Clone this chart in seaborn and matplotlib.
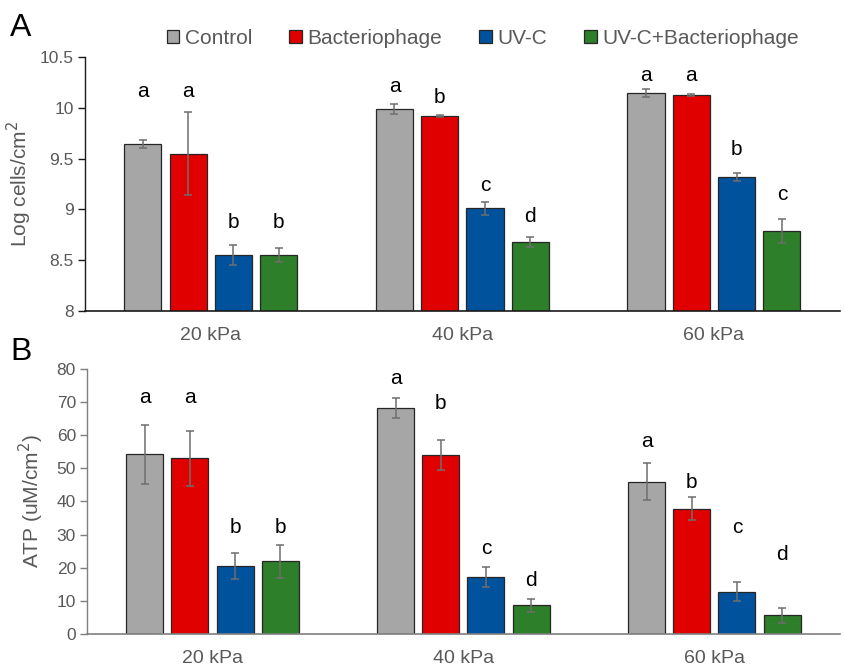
import numpy as np
import pandas as pd
import matplotlib
matplotlib.use("Agg")
import matplotlib.pyplot as plt
import seaborn as sns

# data
pressures = ['20 kPa', '40 kPa', '60 kPa']
treatments = ['Control', 'Bacteriophage', 'UV-C', 'UV-C+Bacteriophage']
colors = ['#A6A6A6', '#E00000', '#00529C', '#2E7F2A']

# panel A: log cells/cm2, rows = treatment, cols = pressure
log_mean = [[9.64, 9.99, 10.15],
            [9.55, 9.92, 10.13],
            [8.55, 9.01, 9.32],
            [8.55, 8.68, 8.79]]
log_err = [[0.04, 0.05, 0.04],
           [0.41, 0.01, 0.01],
           [0.10, 0.06, 0.04],
           [0.07, 0.05, 0.12]]
log_letters = [['a', 'a', 'a'],
               ['a', 'b', 'a'],
               ['b', 'c', 'b'],
               ['b', 'd', 'c']]
log_letter_y = [[10.16, 10.21, 10.32],
                [10.16, 10.10, 10.32],
                [8.87, 9.24, 9.59],
                [8.87, 8.93, 9.15]]

# panel B: ATP uM/cm2
atp_mean = [[54.2, 68.3, 46.0],
            [53.0, 54.0, 37.8],
            [20.5, 17.3, 12.8],
            [22.0, 8.7, 5.6]]
atp_err = [[9.0, 3.0, 5.5],
           [8.3, 4.5, 3.5],
           [4.0, 3.0, 2.8],
           [5.0, 2.0, 2.3]]
atp_letters = [['a', 'a', 'a'],
               ['a', 'b', 'b'],
               ['b', 'c', 'c'],
               ['b', 'd', 'd']]
atp_letter_y = [[71.5, 77.0, 58.2],
                [71.5, 69.7, 45.8],
                [32.0, 25.8, 32.0],
                [32.0, 16.0, 24.0]]


def long_table(mean):
    rows = []
    for t, vals in zip(treatments, mean):
        for p, v in zip(pressures, vals):
            rows.append({'Pressure': p, 'Treatment': t, 'value': v})
    return pd.DataFrame(rows)


sns.set_style('white')
plt.rcParams['font.family'] = ['Liberation Sans', 'DejaVu Sans']
grey_txt = '#595959'

fig = plt.figure(figsize=(8.44, 6.67), dpi=100)
axA = fig.add_axes([0.1007, 0.5337, 0.8943, 0.3808])
axB = fig.add_axes([0.1031, 0.0495, 0.8919, 0.3973])


def draw_panel(ax, mean, err, letters, letter_y, ylim, yticks, ylabel, spine_col):
    df = long_table(mean)
    sns.barplot(data=df, x='Pressure', y='value', hue='Treatment',
                order=pressures, hue_order=treatments, palette=colors,
                errorbar=None, width=0.72, gap=0.18, edgecolor='#262626',
                linewidth=0.9, saturation=1, ax=ax)
    # bars sorted left to right: pressure groups, treatments inside each group
    bars = [p for c in ax.containers for p in c if p is not None]
    bars = sorted(bars, key=lambda b: b.get_x())
    for k, bar in enumerate(bars):
        pi, ti = k // len(treatments), k % len(treatments)
        xc = bar.get_x() + bar.get_width() / 2
        ax.errorbar(xc, mean[ti][pi], yerr=err[ti][pi], fmt='none',
                    ecolor='#6E6E6E', elinewidth=1.1, capsize=3, capthick=1.1)
        ax.text(xc, letter_y[ti][pi], letters[ti][pi], ha='center', va='center',
                fontsize=15, color='black')
    ax.set_ylim(*ylim)
    ax.set_xlim(-0.5, 2.5)
    ax.set_yticks(yticks)
    ax.set_yticklabels([('%g' % v) for v in yticks])
    ax.set_xlabel('')
    ax.set_ylabel(ylabel, fontsize=15, color=grey_txt)
    ax.tick_params(axis='y', colors=grey_txt, labelsize=12.5, left=True,
                   length=5, width=1, direction='out', pad=3)
    ax.tick_params(axis='y', color=spine_col)
    ax.tick_params(axis='x', colors=grey_txt, labelsize=14, bottom=False, pad=8)
    sns.despine(ax=ax)
    ax.spines['left'].set_color(spine_col)
    ax.spines['bottom'].set_color(spine_col)
    ax.spines['left'].set_linewidth(1)
    ax.spines['bottom'].set_linewidth(1.2)


draw_panel(axA, log_mean, log_err, log_letters, log_letter_y, (8, 10.5),
           [8, 8.5, 9, 9.5, 10, 10.5], 'Log cells/cm$^2$', '#1A1A1A')
handles, labels = axA.get_legend_handles_labels()
axA.get_legend().remove()
draw_panel(axB, atp_mean, atp_err, atp_letters, atp_letter_y, (0, 80),
           list(range(0, 81, 10)), 'ATP (uM/cm$^2$)', '#7F7F7F')
axB.get_legend().remove()
axA.yaxis.set_label_coords(-0.068, 0.5)
axB.yaxis.set_label_coords(-0.054, 0.5)

fig.legend(handles, labels, loc='center', bbox_to_anchor=(0.572, 0.943), ncol=4,
           frameon=False, fontsize=15, handlelength=0.6, handleheight=0.6,
           handletextpad=0.25, columnspacing=1.8, labelcolor=grey_txt)

fig.text(0.012, 0.958, 'A', fontsize=23, color='black', va='center')
fig.text(0.012, 0.472, 'B', fontsize=23, color='black', va='center')

fig.savefig('out.png', dpi=100)
